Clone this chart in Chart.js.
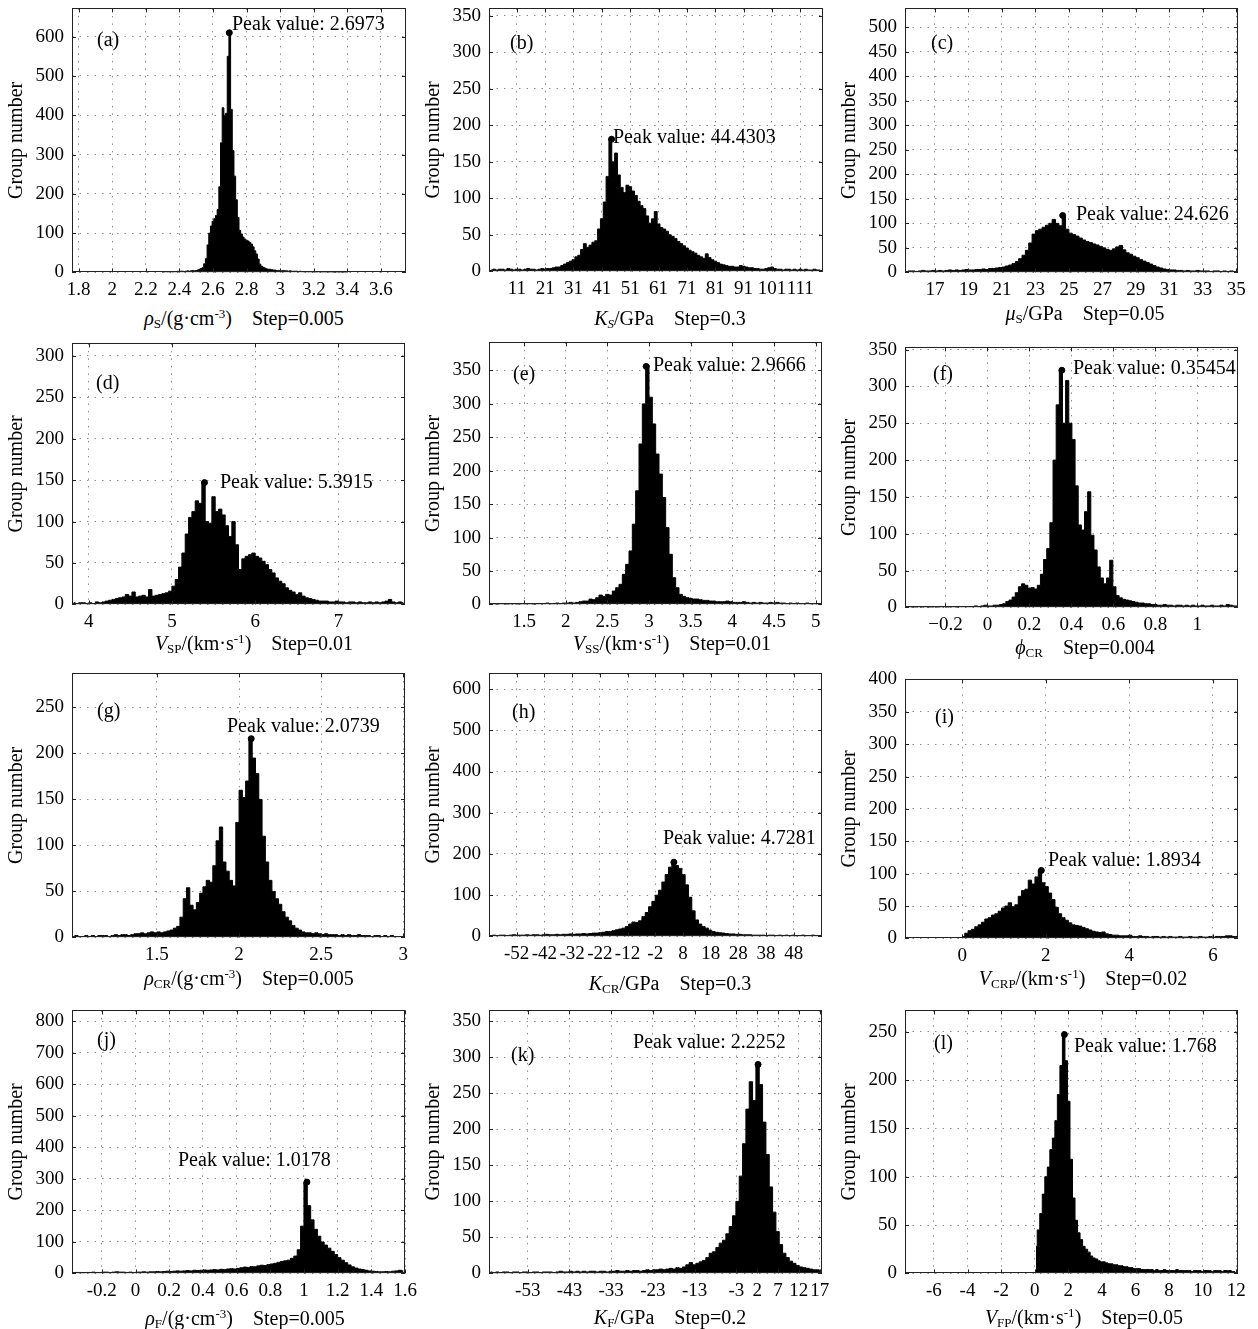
<!DOCTYPE html>
<html>
<head>
<meta charset="utf-8">
<script src="https://cdn.jsdelivr.net/npm/chart.js@4.4.0/dist/chart.umd.min.js"></script>
<style>
  html, body { margin: 0; padding: 0; background: #fff; }
  #fig { position: relative; width: 1258px; height: 1329px; overflow: hidden; }
  .panel { position: absolute; }
  .xtitle { position: absolute; transform: translate(-50%, -50%); white-space: nowrap;
            font-family: "Liberation Serif", "Times New Roman", serif; font-size: 20px; color: #000; line-height: 1; }
  .xtitle sub { font-size: 13px; vertical-align: -3px; line-height: 0; }
  .xtitle sup { font-size: 13px; vertical-align: 7px; line-height: 0; }
</style>
</head>
<body>
<div id="fig"></div>
<script>
// bins: first bin centre and bin width, counts
var startA = 2.30, widthA = 0.01;
var countsA = [1,1,2,1,2,2,1,2,2,3, 2,3,3,2,3,4,3,4,5,4, 5,6,8,10,12,22,35,70,100,118,
    130,137,145,160,218,330,419,400,405,550, 610,415,310,245,185,140,107,98,90,85,
    82,80,76,72,65,55,47,34,21,16, 13,11,9,8,8,7,6,6,5,5, 5,4,5,4,4,3,4,3,3,3,
    3,2,3,2,2,2,2,1,2,1, 2,1,1,2,1,1,1,1,1,1, 1,1,0,1,1,0,1,0,1,0,0];
var xTicksA = ['1.8','2','2.2','2.4','2.6','2.8','3','3.2','3.4','3.6'];
var yTicksA = [0,100,200,300,400,500,600];

var startB = 2, widthB = 1;
var countsB = [2,3,2,3,3,2,4,3,2,3, 3,2,3,4,3,3,2,3,4,3, 4,4,5,6,6,8,10,12,14,16,
    20,22,30,38,33,36,40,42,58,72, 95,130,181,150,162,132,115,108,118,116,
    110,104,96,90,86,76,66,72,82,65, 60,58,55,50,48,45,41,38,35,32,
    29,27,25,22,20,18,24,19,16,14, 12,10,9,8,7,7,6,6,8,7, 6,5,5,4,4,3,3,4,5,6,
    4,3,3,2,3,3,2,3,2,3, 2,3,2,2,3,2,2];
var xTicksB = ['11','21','31','41','51','61','71','81','91','101','111'];
var yTicksB = [0,50,100,150,200,250,300,350];

var startC = 15.3, widthC = 0.2;
var countsC = [2,3,3,2,3,4,3,3,4,3, 4,3,4,5,4,5,4,5,6,5, 5,6,6,7,6,8,8,9,10,11,
    13,15,18,22,28,35,45,60,78,85, 88,92,96,100,108,100,95,113,88,80,
    77,74,70,66,63,61,58,56,53,50, 47,45,48,52,55,46,40,37,33,30,
    26,23,20,17,14,11,9,7,6,5, 5,4,4,3,4,3,3,4,3,3, 3,2,3,3,2,3,2,3,2,2];
var xTicksC = ['17','19','21','23','25','27','29','31','33','35'];
var yTicksC = [0,50,100,150,200,250,300,350,400,450,500];

var startD = 3.82, widthD = 0.04;
var countsD = [2,1,2,2,1,2,1,3,2,3, 4,5,6,7,8,9,12,10,15,9, 10,11,9,18,10,11,12,13,14,16,
    22,30,45,62,85,105,112,125,122,147, 100,98,130,112,115,108,95,82,100,72,
    42,55,58,60,62,58,56,52,48,42, 38,32,28,25,20,17,15,12,14,10,
    8,7,6,5,4,4,4,3,3,4, 3,3,2,3,3,2,3,2,2,3, 2,3,2,3,4,6,3,2,3,2];
var xTicksD = ['4','5','6','7'];
var yTicksD = [0,50,100,150,200,250,300];

var startE = 1.10, widthE = 0.04;
var countsE = [0,1,0,1,1,0,1,1,0,1, 1,1,1,0,1,1,1,2,1,1, 2,1,2,2,3,2,3,4,5,5,
    8,7,10,14,12,15,14,20,25,30, 45,60,80,120,170,240,300,356,310,270,
    225,195,160,115,75,40,25,15,12,10, 9,8,8,7,6,6,5,5,4,4,
    4,5,4,3,3,3,4,3,2,3, 2,3,2,2,3,2,3,2,2,1, 2,1,2,1,1,2,1,1,1,1];
var xTicksE = ['1.5','2','2.5','3','3.5','4','4.5','5'];
var yTicksE = [0,50,100,150,200,250,300,350];

var startF = -0.385, widthF = 0.015;
var countsF = [0,1,0,0,1,0,1,0,0,1, 0,1,1,0,1,1,0,1,1,1, 1,1,2,1,2,3,2,2,3,3,
    4,5,8,10,14,20,28,32,30,26, 27,25,30,45,65,80,115,200,275,322,
    250,308,250,228,165,112,105,130,157,98, 78,55,40,32,40,64,28,16,13,11,
    10,9,8,7,6,6,5,5,4,4, 3,3,4,3,3,2,3,3,2,3, 2,3,2,2,3,2,2,3,2,2, 3,2,4,3,2,2];
var xTicksF = ['\u22120.2','0','0.2','0.4','0.6','0.8','1'];
var yTicksF = [0,50,100,150,200,250,300,350];

var startG = 0.99, widthG = 0.02;
var countsG = [1,2,1,1,2,1,2,1,2,2, 2,1,2,3,2,3,3,2,3,4, 4,5,4,5,6,5,6,5,6,7,
    8,10,12,22,42,54,35,30,38,48, 55,62,60,78,105,120,82,72,62,56,
    125,160,152,170,216,195,178,150,110,82, 62,50,42,36,28,22,18,13,10,8,
    6,5,5,4,5,4,3,4,3,3, 3,2,3,2,3,2,2,3,2,2, 2,1,2,2,1,2,1,2,1,1, 1,1];
var xTicksG = ['1.5','2','2.5','3'];
var yTicksG = [0,50,100,150,200,250];

var startH = -61.4, widthH = 1.2;
var countsH = [2,3,2,3,3,2,3,4,3,3, 3,4,3,4,4,3,4,5,4,4, 5,4,5,5,6,5,6,6,7,6,
    7,8,8,9,10,12,12,14,16,18, 20,24,30,35,34,38,48,58,72,85,
    100,112,132,150,168,181,172,165,150,125, 95,62,40,30,24,20,15,12,10,9,
    8,7,6,6,5,5,4,4,4,3, 3,3,3,2,3,3,2,3,2,3, 2,3,2,2,3,2,2,3,2,2];
var xTicksH = ['-52','-42','-32','-22','-12','-2','8','18','28','38','48'];
var yTicksH = [0,100,200,300,400,500,600];

var startI = 0.02, widthI = 0.08;
var countsI = [3,8,12,14,18,21,25,30,32,36, 38,42,47,50,55,49,52,65,74,76,
    90,84,95,105,86,80,70,60,48,38, 32,28,24,21,20,19,17,15,13,11,
    10,9,10,7,6,5,5,4,4,4, 5,3,3,4,3,3,2,3,3,2, 3,2,3,2,2,3,2,2,3,2,
    2,3,2,2,3,2,3,3,3,4, 4,3,3];
var xTicksI = ['0','2','4','6'];
var yTicksI = [0,50,100,150,200,250,300,350,400];

var startJ = -0.37, widthJ = 0.02;
var countsJ = [2,3,3,2,3,3,4,3,3,4, 4,3,4,5,4,4,3,4,3,4, 4,5,4,5,5,6,5,6,7,6,
    7,8,7,8,9,8,10,9,10,11, 10,11,12,11,13,12,14,15,14,16, 18,20,19,22,21,24,26,25,28,30,
    32,35,38,40,42,48,55,75,150,290, 215,170,140,118,100,90,80,70,60,50,
    42,34,27,21,17,14,12,10,8,7, 6,5,5,6,5,7,8,10,8];
var xTicksJ = ['-0.2','0','0.2','0.4','0.6','0.8','1','1.2','1.4','1.6'];
var yTicksJ = [0,100,200,300,400,500,600,700,800];

var startK = -61.9, widthK = 0.8;
var countsK = [2,1,2,1,2,2,1,2,2,1, 2,2,1,2,2,1,2,2,2,1, 2,3,2,2,3,2,3,2,3,2,
    3,3,2,3,3,2,3,3,4,3, 3,4,3,4,4,3,4,5,4,5, 5,6,5,6,7,6,8,7,9,12,
    15,12,14,16,18,22,28,30,36,42, 46,55,65,80,100,135,180,228,266,240,
    290,262,210,165,120,85,58,40,28,22, 17,14,11,9,8,7,6,5,5,4];
var xTicksK = ['-53','-43','-33','-23','-13','-3','2','7','12','17'];
var yTicksK = [0,50,100,150,200,250,300,350];

var startL = 0.075, widthL = 0.15;
var countsL = [28,45,62,82,100,110,128,140,158,185, 215,247,220,178,118,78,55,42,35,28,
    25,22,18,16,15,13,12,12,11,10, 10,9,9,8,8,7,7,6,6,5,
    5,5,4,4,4,4,4,3,4,3, 3,4,3,3,3,3,4,3,3,3, 3,3,2,3,3,3,2,3,3,3, 2,3,3,3,2,3,3,3,2,2];
var xTicksL = ['-6','-4','-2','0','2','4','6','8','10','12'];
var yTicksL = [0,50,100,150,200,250];

var peakX = [2.6973, 44.4303, 24.626, 5.3915, 2.9666, 0.35454, 2.0739, 4.7281, 1.8934, 1.0178, 2.2252, 1.768];
var peakY = [610, 181, 116, 147, 356, 322, 216, 180, 105, 290, 290, 247];
var letters = ['(a)','(b)','(c)','(d)','(e)','(f)','(g)','(h)','(i)','(j)','(k)','(l)'];
var xTitles = [
    '<i>\u03c1</i><sub>S</sub>/(g\u00b7cm<sup>-3</sup>)&nbsp;&nbsp;&nbsp; Step=0.005',
    '<i>K</i><sub><i>S</i></sub>/GPa&nbsp;&nbsp;&nbsp; Step=0.3',
    '<i>\u03bc</i><sub>S</sub>/GPa&nbsp;&nbsp;&nbsp; Step=0.05',
    '<i>V</i><sub>SP</sub>/(km\u00b7s<sup>-1</sup>)&nbsp;&nbsp;&nbsp; Step=0.01',
    '<i>V</i><sub>SS</sub>/(km\u00b7s<sup>-1</sup>)&nbsp;&nbsp;&nbsp; Step=0.01',
    '<i>\u03d5</i><sub>CR</sub>&nbsp;&nbsp;&nbsp; Step=0.004',
    '<i>\u03c1</i><sub>CR</sub>/(g\u00b7cm<sup>-3</sup>)&nbsp;&nbsp;&nbsp; Step=0.005',
    '<i>K</i><sub>CR</sub>/GPa&nbsp;&nbsp;&nbsp; Step=0.3',
    '<i>V</i><sub>CRP</sub>/(km\u00b7s<sup>-1</sup>)&nbsp;&nbsp;&nbsp; Step=0.02',
    '<i>\u03c1</i><sub>F</sub>/(g\u00b7cm<sup>-3</sup>)&nbsp;&nbsp;&nbsp; Step=0.005',
    '<i>K</i><sub>F</sub>/GPa&nbsp;&nbsp;&nbsp; Step=0.2',
    '<i>V</i><sub>FP</sub>/(km\u00b7s<sup>-1</sup>)&nbsp;&nbsp;&nbsp; Step=0.05'
];

// plot boxes on the page (px) and axis ranges
var panels = [
    {L:72,  R:406,  T:8,    B:272,  xMin:1.761, xMax:3.749, yMax:672, start:startA, width:widthA, counts:countsA, xTicks:xTicksA, yTicks:yTicksA, letterAt:[25,32], peakAt:[160,16],  titleAt:[244,318]},
    {L:489, R:823,  T:8,    B:271,  xMin:1.2,   xMax:119,   yMax:360, start:startB, width:widthB, counts:countsB, xTicks:xTicksB, yTicks:yTicksB, letterAt:[21,35], peakAt:[124,129], titleAt:[670,318]},
    {L:905, R:1238, T:8,    B:272,  xMin:15.21, xMax:35.1,  yMax:538, start:startC, width:widthC, counts:countsC, xTicks:xTicksC, yTicks:yTicksC, letterAt:[26,35], peakAt:[171,206], titleAt:[1085,313]},
    {L:72,  R:405,  T:343,  B:604,  xMin:3.8,   xMax:7.8,   yMax:315, start:startD, width:widthD, counts:countsD, xTicks:xTicksD, yTicks:yTicksD, letterAt:[24,40], peakAt:[148,139], titleAt:[254,643]},
    {L:489, R:822,  T:342,  B:604,  xMin:1.08,  xMax:5.076, yMax:392, start:startE, width:widthE, counts:countsE, xTicks:xTicksE, yTicks:yTicksE, letterAt:[24,32], peakAt:[164,23],  titleAt:[672,643]},
    {L:905, R:1238, T:347,  B:607,  xMin:-0.393,xMax:1.194, yMax:353, start:startF, width:widthF, counts:countsF, xTicks:xTicksF, yTicks:yTicksF, letterAt:[28,27], peakAt:[168,21],  titleAt:[1085,647]},
    {L:72,  R:405,  T:673,  B:937,  xMin:0.983, xMax:3.01,  yMax:287, start:startG, width:widthG, counts:countsG, xTicks:xTicksG, yTicks:yTicksG, letterAt:[25,38], peakAt:[155,53],  titleAt:[249,978]},
    {L:489, R:822,  T:673,  B:936,  xMin:-62,   xMax:58.2,  yMax:638, start:startH, width:widthH, counts:countsH, xTicks:xTicksH, yTicks:yTicksH, letterAt:[23,39], peakAt:[174,165], titleAt:[670,983]},
    {L:905, R:1238, T:679,  B:938,  xMin:-1.37, xMax:6.6,   yMax:400, start:startI, width:widthI, counts:countsI, xTicks:xTicksI, yTicks:yTicksI, letterAt:[30,38], peakAt:[143,181], titleAt:[1083,978]},
    {L:72,  R:405,  T:1010, B:1273, xMin:-0.377,xMax:1.6,   yMax:835, start:startJ, width:widthJ, counts:countsJ, xTicks:xTicksJ, yTicks:yTicksJ, letterAt:[25,30], peakAt:[106,150], titleAt:[245,1318]},
    {L:489, R:822,  T:1010, B:1273, xMin:-62.3, xMax:17.55, yMax:365, start:startK, width:widthK, counts:countsK, xTicks:xTicksK, yTicks:yTicksK, letterAt:[22,45], peakAt:[144,32],  titleAt:[670,1317]},
    {L:905, R:1238, T:1010, B:1273, xMin:-7.72, xMax:12.1,  yMax:272, start:startL, width:widthL, counts:countsL, xTicks:xTicksL, yTicks:yTicksL, letterAt:[29,33], peakAt:[169,36],  titleAt:[1084,1317]}
];

Chart.defaults.font.family = '"Liberation Serif", "Times New Roman", serif';
Chart.defaults.font.size = 19;
Chart.defaults.color = '#000';

var fig = document.getElementById('fig');
var PAD_L = 72, PAD_R = 22, PAD_T = 12, PAD_B = 34;

// box round the plot, inward ticks, panel letter and peak label
var framePlugin = {
    id: 'frame',
    afterDatasetsDraw: function(chart, args, opts){
        var a = chart.chartArea, ctx = chart.ctx;
        var sx = chart.scales.x, sy = chart.scales.y;
        ctx.save();
        ctx.strokeStyle = '#222';
        ctx.lineWidth = 1;
        ctx.beginPath();
        sx.ticks.forEach(function(t){
            var px = Math.round(sx.getPixelForValue(t.value)) + 0.5;
            ctx.moveTo(px, a.bottom); ctx.lineTo(px, a.bottom - 4);
            ctx.moveTo(px, a.top); ctx.lineTo(px, a.top + 4);
        });
        sy.ticks.forEach(function(t){
            var py = Math.round(sy.getPixelForValue(t.value)) + 0.5;
            ctx.moveTo(a.left, py); ctx.lineTo(a.left + 4, py);
            ctx.moveTo(a.right, py); ctx.lineTo(a.right - 4, py);
        });
        ctx.stroke();
        ctx.strokeRect(Math.round(a.left) + 0.5, Math.round(a.top) + 0.5, Math.round(a.right - a.left) - 1, Math.round(a.bottom - a.top) - 1);
        ctx.fillStyle = '#000';
        ctx.font = '20px "Liberation Serif", "Times New Roman", serif';
        ctx.textBaseline = 'middle';
        ctx.textAlign = 'left';
        ctx.fillText(opts.letter, a.left + opts.letterAt[0], a.top + opts.letterAt[1]);
        ctx.fillText(opts.peakText, a.left + opts.peakAt[0], a.top + opts.peakAt[1]);
        ctx.restore();
    }
};

var placeBox = function(box, p, dl, dt, dr, db){
    box.style.left = (p.L - dl) + 'px';
    box.style.top = (p.T - dt) + 'px';
    box.style.width = (p.R - p.L + dl + dr) + 'px';
    box.style.height = (p.B - p.T + dt + db) + 'px';
};

var makePanel = function(p, idx){
    var box = document.createElement('div');
    box.className = 'panel';
    placeBox(box, p, PAD_L, PAD_T, PAD_R, PAD_B);
    var cv = document.createElement('canvas');
    box.appendChild(cv);
    fig.appendChild(box);

    var pts = p.counts.map(function(c, i){ return {x: p.start + i * p.width, y: c}; });
    var xVals = p.xTicks.map(function(s){ return Number(s.replace('\u2212', '-')); });

    var gridOpts = {color: '#8c8c8c', lineWidth: 1, drawTicks: false};
    var borderOpts = {display: false, dash: [1.5, 6]};

    var chart = new Chart(cv.getContext('2d'), {
        type: 'line',
        data: {
            datasets: [
                {
                    data: [{x: peakX[idx], y: peakY[idx]}],
                    showLine: false,
                    pointRadius: 3,
                    pointBackgroundColor: '#000',
                    pointBorderColor: '#000'
                },
                {
                    data: pts,
                    stepped: 'middle',
                    fill: 'origin',
                    backgroundColor: '#000',
                    borderColor: '#000',
                    borderWidth: 1,
                    pointRadius: 0
                }
            ]
        },
        options: {
            responsive: true,
            maintainAspectRatio: false,
            animation: false,
            events: [],
            layout: {padding: {top: PAD_T, right: PAD_R, left: 0, bottom: 0}},
            plugins: {
                legend: {display: false},
                tooltip: {enabled: false},
                frame: {letter: letters[idx], letterAt: p.letterAt, peakText: 'Peak value: ' + peakX[idx], peakAt: p.peakAt}
            },
            scales: {
                x: {
                    type: 'linear',
                    min: p.xMin,
                    max: p.xMax,
                    afterBuildTicks: function(s){ s.ticks = xVals.map(function(v){ return {value: v}; }); },
                    afterFit: function(s){ s.height = PAD_B; },
                    ticks: {
                        autoSkip: false, maxRotation: 0, minRotation: 0, padding: 6,
                        callback: function(v, i){ return p.xTicks[i]; }
                    },
                    grid: gridOpts,
                    border: borderOpts
                },
                y: {
                    min: 0,
                    max: p.yMax,
                    afterBuildTicks: function(s){ s.ticks = p.yTicks.map(function(v){ return {value: v}; }); },
                    afterFit: function(s){ s.width = PAD_L; },
                    ticks: {
                        padding: 8,
                        callback: function(v, i){ return String(p.yTicks[i]); }
                    },
                    grid: gridOpts,
                    border: borderOpts,
                    title: {display: true, text: 'Group number', padding: {top: 5, bottom: 0}, font: {size: 20}}
                }
            }
        },
        plugins: [framePlugin]
    });

    // line the plot area up with the reference box
    var a = chart.chartArea;
    placeBox(box, p, a.left, a.top, chart.width - a.right, chart.height - a.bottom);
    chart.resize();

    var title = document.createElement('div');
    title.className = 'xtitle';
    title.innerHTML = xTitles[idx];
    title.style.left = p.titleAt[0] + 'px';
    title.style.top = p.titleAt[1] + 'px';
    fig.appendChild(title);
};

panels.forEach(makePanel);
</script>
</body>
</html>
